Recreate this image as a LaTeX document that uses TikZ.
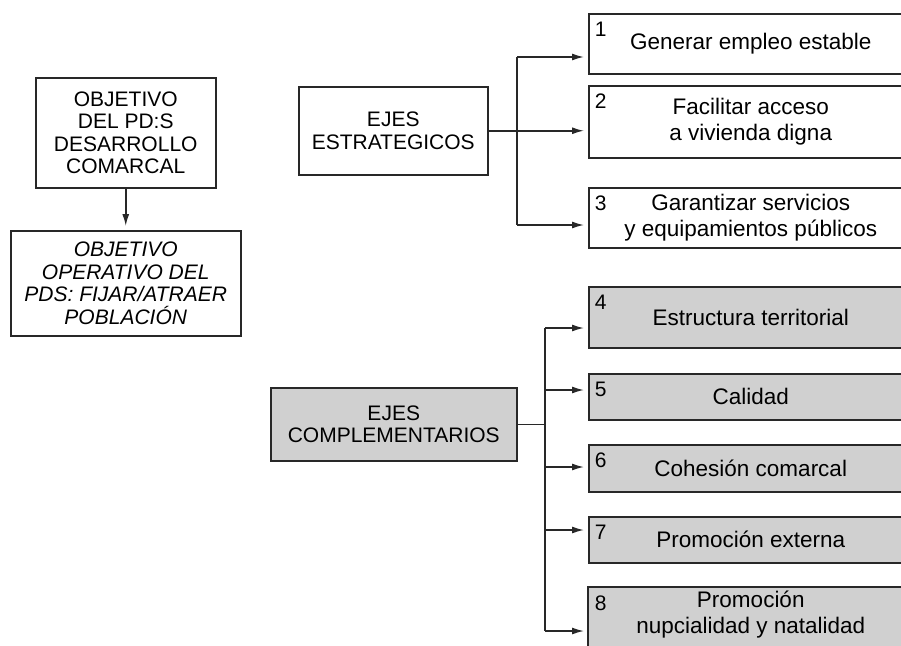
\documentclass[tikz,border=0pt]{standalone}
\usepackage{fontspec}
\setmainfont{Liberation Sans}
\usetikzlibrary{arrows.meta}
\definecolor{boxgray}{RGB}{208,208,208}
\definecolor{linegray}{RGB}{40,40,40}
\begin{document}
\begin{tikzpicture}[x=1pt,y=-1pt,
  line width=1.5pt, draw=linegray,
  box/.style={draw=linegray, line width=1.5pt, inner sep=0pt, align=center,
    font=\fontsize{21}{22.5}\selectfont},
  lbox/.style={box, anchor=north west},
  rbox/.style={box, anchor=north west, minimum width=324pt,
    font=\fontsize{22.5}{25.5}\selectfont},
  gbox/.style={rbox, fill=boxgray},
  numlbl/.style={anchor=north west, inner sep=0pt, xshift=6pt, yshift=-8pt,
    font=\fontsize{21}{21}\selectfont},
  arr/.style={-{Latex[length=12pt,width=7pt]}, shorten >=4pt}]
\useasboundingbox (0,0) rectangle (901,645);
\clip (0,0) rectangle (901,645);

% left column
\node[lbox, minimum width=180pt, minimum height=110pt] (obj) at (35,77)
  {OBJETIVO\\DEL PD:S\\DESARROLLO\\COMARCAL};
\node[lbox, minimum width=230pt, minimum height=105pt] (ope) at (10,230)
  {\itshape OBJETIVO\\\itshape OPERATIVO DEL\\\itshape PDS: FIJAR/ATRAER\\\itshape POBLACIÓN};
\draw[arr] (obj.south) -- (ope.north);

% strategic axes
\node[lbox, minimum width=189pt, minimum height=88pt] (es) at (298,86)
  {EJES\\ESTRATEGICOS};
\node[rbox, minimum height=60pt, label={[numlbl]north west:1}] (b1) at (588,13)
  {Generar empleo estable};
\node[rbox, minimum height=72pt, label={[numlbl]north west:2}] (b2) at (588,85)
  {Facilitar acceso\\a vivienda digna};
\node[rbox, minimum height=60pt, label={[numlbl]north west:3}] (b3) at (588,187)
  {Garantizar servicios\\y equipamientos públicos};

\coordinate (j1) at (517,57);
\coordinate (j3) at (517,225);
\draw (j1) -- (j3);
\draw[arr] (j1) -- (j1 -| b1.west);
\draw[arr] (es.east) -- (es.east -| b2.west);
\draw[arr] (j3) -- (j3 -| b3.west);

% complementary axes
\node[lbox, fill=boxgray, minimum width=246pt, minimum height=73pt] (ec) at (270,387)
  {EJES\\COMPLEMENTARIOS};
\node[gbox, minimum height=61pt, label={[numlbl]north west:4}] (b4) at (588,286)
  {Estructura territorial};
\node[gbox, minimum height=46pt, label={[numlbl]north west:5}] (b5) at (588,373)
  {Calidad};
\node[gbox, minimum height=47pt, label={[numlbl]north west:6}] (b6) at (588,444)
  {Cohesión comarcal};
\node[gbox, minimum height=46pt, label={[numlbl]north west:7}] (b7) at (588,516)
  {Promoción externa};
\draw[fill=boxgray] (588,587) rectangle (912,670);
\node[rbox, draw=none, minimum height=54pt, label={[numlbl]north west:8}] (b8) at (588,587)
  {Promoción\\nupcialidad y natalidad};

\coordinate (k4) at (545,328);
\coordinate (k5) at (545,390);
\coordinate (k6) at (545,467);
\coordinate (k7) at (545,530);
\coordinate (k8) at (545,631);
\draw (ec.east) -- (ec.east -| k4);
\draw (k4) -- (k8);
\draw[arr] (k4) -- (k4 -| b4.west);
\draw[arr] (k5) -- (k5 -| b5.west);
\draw[arr] (k6) -- (k6 -| b6.west);
\draw[arr] (k7) -- (k7 -| b7.west);
\draw[arr] (k8) -- (k8 -| b8.west);
\end{tikzpicture}
\end{document}
